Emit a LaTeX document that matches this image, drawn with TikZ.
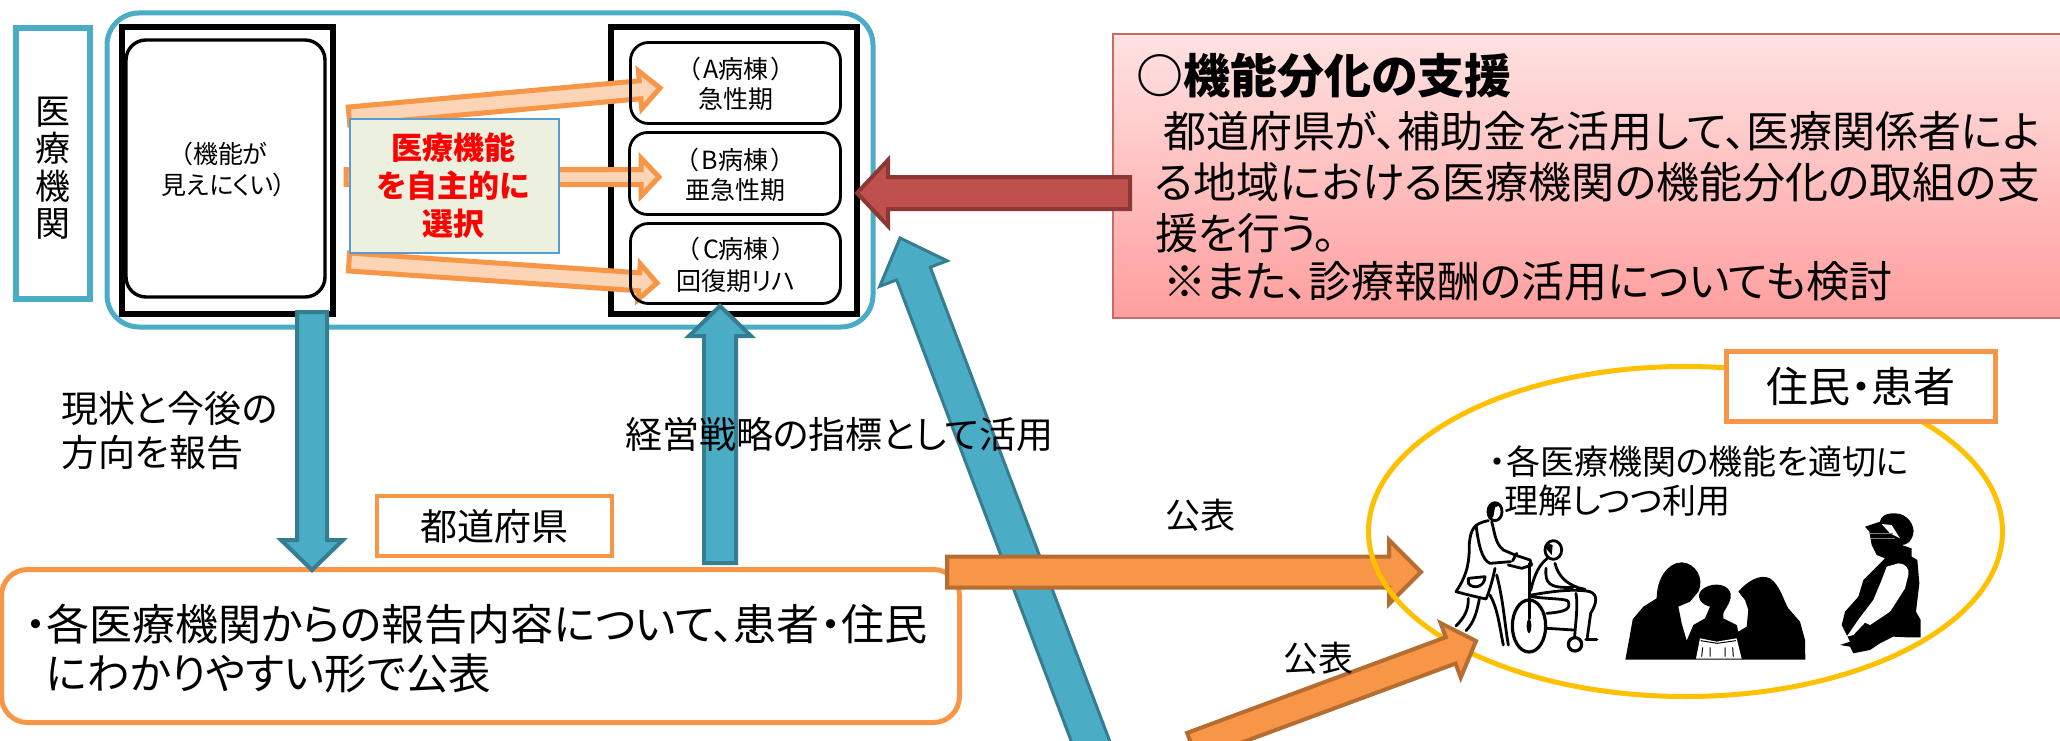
\documentclass[tikz,border=0pt]{standalone}
\usepackage{fontspec}
\usetikzlibrary{calc,shapes.geometric}
\setmainfont{Noto Sans CJK JP}[RawFeature={+palt}]
\definecolor{tblue}{HTML}{4BACC6}
\definecolor{tbluedk}{HTML}{357D91}
\definecolor{torange}{HTML}{F79646}
\definecolor{torangedk}{HTML}{B66D31}
\definecolor{tpeach}{HTML}{FBD5B5}
\definecolor{tred}{HTML}{C0504D}
\definecolor{treddk}{HTML}{8C3836}
\definecolor{tgold}{HTML}{FFC000}
\definecolor{tgreen}{HTML}{EBF1DE}
\definecolor{tedge}{HTML}{5B9BD5}
\definecolor{ptop}{HTML}{FFE2E2}
\definecolor{pbot}{HTML}{FF9E9E}
\newcommand{\fs}[1]{\fontsize{#1}{#1}\selectfont}
% fat block arrow: style, from, to, shaft width, head width, head length
\newcommand{\fatarrow}[6]{%
  \path ($(#3)!#6pt!(#2)$) coordinate (nk);
  \draw[#1] ($(#2)!#4pt/2!90:(#3)$) -- ($(nk)!#4pt/2!90:(#3)$) -- ($(nk)!#5pt/2!90:(#3)$)
    -- (#3) -- ($(nk)!#5pt/2!-90:(#3)$) -- ($(nk)!#4pt/2!-90:(#3)$) -- ($(#2)!#4pt/2!-90:(#3)$) -- cycle;}
\tikzset{
  every node/.style={outer sep=0pt},
  txt/.style={inner sep=0pt,outer sep=0pt,text=black},
  frame/.style={draw=black,line width=6pt,inner sep=0pt,anchor=north west,fill=white},
  ward/.style={draw=black,line width=2.8pt,rounded corners=18pt,inner sep=0pt,anchor=north west},
  orbox/.style={draw=torange,line width=5pt,fill=white,inner sep=0pt,anchor=north west},
  peacharrow/.style={draw=torange,fill=tpeach,line width=5pt,line join=miter},
  bluearrow/.style={draw=tbluedk,fill=tblue,line width=4pt,line join=miter},
  orangearrow/.style={draw=torangedk,fill=torange,line width=4pt,line join=miter},
  redarrow/.style={draw=treddk,fill=tred,line width=4pt,line join=miter},
  art/.style={line width=2.8pt,line cap=round,line join=round,draw=black},
}
\begin{document}
\begin{tikzpicture}[x=1pt,y=-1pt]
\useasboundingbox (0,0) rectangle (2060,741);
\clip (0,0) rectangle (2060,741);
\fill[white] (0,0) rectangle (2060,741);

% --- hospital group
\node[draw=tblue,line width=6pt,fill=white,minimum width=74pt,minimum height=271pt,inner sep=0pt,anchor=north west] (kikan) at (16,28) {};
\node[txt,align=center,font=\fs{35}] (kikantext) at (53,168) {医\\[2.5pt]療\\[2.5pt]機\\[2.5pt]関};
\node[draw=tblue,line width=5pt,rounded corners=32pt,minimum width=766pt,minimum height=314pt,inner sep=0pt,anchor=north west] (group) at (107,13) {};
\node[frame,minimum width=211pt,minimum height=286pt] (leftframe) at (121.5,27.5) {};
\node[draw=black,line width=3.4pt,rounded corners=20pt,minimum width=199pt,minimum height=257pt,inner sep=0pt,anchor=north west] (leftward) at (126,40) {};
\node[txt,align=center,font=\fs{25}] (lefttext) at (224,169) {（機能が\\[6pt]見えにくい）};
\node[frame,minimum width=246pt,minimum height=286pt] (rightframe) at (610.5,27.5) {};

% --- selection arrows
\coordinate (s1) at (349,116); \coordinate (t1) at (660,88);
\coordinate (s2) at (346,177); \coordinate (t2) at (659,177);
\coordinate (s3) at (349,262); \coordinate (t3) at (657,283);
\fatarrow{peacharrow}{s1}{t1}{18}{38}{20}
\fatarrow{peacharrow}{s2}{t2}{15}{38}{18}
\fatarrow{peacharrow}{s3}{t3}{18}{36}{18}

\node[ward,minimum width=210pt,minimum height=81pt] (wardA) at (630.5,42.5) {};
\node[ward,minimum width=211pt,minimum height=82pt] (wardB) at (629.5,132.5) {};
\node[ward,minimum width=210pt,minimum height=80pt] (wardC) at (630.5,223.5) {};
\node[txt,align=center,font=\fs{25}] (wardAt) at (736,83.5) {（\hspace{3pt}A病棟\hspace{3pt}）\\[5pt]急性期};
\node[txt,align=center,font=\fs{25}] (wardBt) at (735,174.5) {（\hspace{3pt}B病棟\hspace{3pt}）\\[5pt]亜急性期};
\node[txt,align=center,font=\fs{25}] (wardCt) at (736,264.5) {（\hspace{3pt}C病棟\hspace{3pt}）\\[7pt]回復期リハ};

\node[draw=tedge,line width=2pt,fill=tgreen,minimum width=209pt,minimum height=134pt,inner sep=0pt,anchor=north west] (choice) at (350,119) {};
\node[txt,align=center,text=red,font=\fs{31}\bfseries] (choicet) at (453,186) {医療機能\\[7pt]を自主的に\\[7pt]選択};

% --- support box
\node[draw=tred!85,line width=2pt,top color=ptop,bottom color=pbot,minimum width=1000pt,minimum height=284pt,inner sep=0pt,anchor=north west] (support) at (1113,34) {};
\node[txt,anchor=west,font=\fs{47}\bfseries] (sup1) at (1136,76) {○機能分化の支援};
\node[txt,anchor=west,font=\fs{43}] (sup2) at (1163,131) {都道府県が、補助金を活用して、医療関係者によ};
\node[txt,anchor=west,font=\fs{43}] (sup3) at (1155,182) {る地域における医療機関の機能分化の取組の支};
\node[txt,anchor=west,font=\fs{43}] (sup4) at (1155,233) {援を行う。};
\node[txt,anchor=west,font=\fs{43}] (sup5) at (1163,281.5) {※また、診療報酬の活用についても検討};
\coordinate (rs) at (1130,193); \coordinate (rt) at (857,193);
\fatarrow{redarrow}{rs}{rt}{32}{66}{31}

% --- prefecture
\node[orbox,rounded corners=26pt,minimum width=958pt,minimum height=153pt] (pref) at (1.5,569.5) {};
\node[orbox,line width=4pt,minimum width=235pt,minimum height=60pt] (preflabel) at (377,496) {};
\node[txt,font=\fs{37}] (preflabelt) at (preflabel.center) {都道府県};
\node[txt,anchor=west,font=\fs{43}] (pr1) at (25,624) {・各医療機関からの報告内容について、患者・住民};
\node[txt,anchor=west,font=\fs{42.5}] (pr2) at (46,673) {にわかりやすい形で公表};

% --- blue arrows
\coordinate (d1) at (312,312); \coordinate (d2) at (312,570);
\coordinate (u1) at (720,563); \coordinate (u2) at (720,306);
\coordinate (g1) at (1098,761); \coordinate (g2) at (900,238);
\fatarrow{bluearrow}{d1}{d2}{30}{62}{30}
\fatarrow{bluearrow}{u1}{u2}{32}{62}{30}
\fatarrow{bluearrow,line width=3pt}{g1}{g2}{36}{72}{38}

\node[txt,anchor=west,font=\fs{37}] (rep1) at (61,408) {現状と今後の};
\node[txt,anchor=west,font=\fs{37}] (rep2) at (61,453) {方向を報告};
\node[txt,anchor=west,font=\fs{37}] (strategy) at (625,434) {経営戦略の指標として活用};

% --- residents
\coordinate (p1) at (947,572); \coordinate (p2) at (1421,572);
\fatarrow{orangearrow}{p1}{p2}{31}{64}{32}
\node[draw=tgold,line width=5pt,ellipse,minimum width=634pt,minimum height=330pt,inner sep=0pt] (oval) at (1685.5,531.5) {};
\coordinate (q1) at (1192,746); \coordinate (q2) at (1476,641);
\fatarrow{orangearrow}{q1}{q2}{28}{58}{27}
\node[orbox,minimum width=269pt,minimum height=70pt] (resident) at (1726.5,351.5) {};
\node[txt,font=\fs{42}] (residentt) at (resident.center) {住民・患者};
\node[txt,font=\fs{35}] (pub1) at (1200,515) {公表};
\node[txt,font=\fs{35}] (pub2) at (1318,658) {公表};
\node[txt,anchor=west,font=\fs{34}] (res1) at (1489,462) {・各医療機関の機能を適切に};
\node[txt,anchor=west,font=\fs{34}] (res2) at (1504,501) {理解しつつ利用};

% --- wheelchair figure
\begin{scope}[shift={(1440,500)},x=0.3333pt,y=-0.3333pt]
\draw[art] (165,35) ellipse [x radius=21,y radius=27];
\fill (143,35) .. controls (140,10) and (170,0) .. (182,15) -- (165,22) -- (160,50) -- (150,58) -- cycle;
\draw[art] (145,62) .. controls (100,70) and (92,90) .. (88,130) .. controls (88,180) and (85,220) .. (48,275);
\draw[art] (48,275) .. controls (85,285) and (115,292) .. (138,297) .. controls (150,270) and (160,230) .. (165,205);
\draw[art] (155,65) .. controls (165,100) and (165,130) .. (190,150) -- (225,165);
\draw[art] (108,75) .. controls (115,130) and (125,180) .. (150,190) -- (212,185);
\draw[art] (225,165) -- (270,180) -- (275,195) -- (245,205) -- (205,195);
\draw[art] (218,182) -- (230,160);
\draw[art] (85,235) -- (135,230) .. controls (135,260) and (100,270) .. (85,250) -- cycle;
\draw[art] (85,295) .. controls (85,330) and (75,350) .. (48,378);
\draw[art] (118,297) .. controls (110,340) and (100,370) .. (78,392);
\draw[art] (150,285) .. controls (175,330) and (180,390) .. (190,435);
\draw[art] (170,225) .. controls (190,300) and (195,380) .. (205,435);
\draw[art] (340,150) ellipse [x radius=25,y radius=28];
\fill (322,150) .. controls (310,140) and (325,125) .. (338,135) -- (335,165) -- cycle;
\draw[art] (322,175) .. controls (290,200) and (280,240) .. (272,272);
\draw[art] (345,190) .. controls (355,230) and (380,250) .. (412,262);
\draw[art] (318,205) .. controls (315,250) and (325,265) .. (400,262);
\draw[art] (275,285) .. controls (330,275) and (400,265) .. (450,275) .. controls (475,285) and (470,310) .. (452,340) -- (442,412);
\draw[art] (410,262) -- (435,268);
\draw[art] (408,280) .. controls (415,320) and (405,380) .. (404,412);
\draw[art] (275,290) .. controls (330,298) and (380,295) .. (385,305) .. controls (390,325) and (385,335) .. (320,340);
\draw[art] (322,385) -- (400,390);
\draw[art] (268,190) -- (268,355);
\draw[art,line width=3.2pt] (267,378) ellipse [x radius=50,y radius=78];
\fill (267,378) ellipse [x radius=7,y radius=21];
\draw[art,line width=3.2pt] (405,433) circle [radius=20];
\draw[art,line width=3.2pt] (438,418) -- (470,418);
\end{scope}

% --- family silhouette
\begin{scope}[shift={(1610,550)},x=0.3333pt,y=-0.3333pt]
\fill (46,329) -- (58,265) -- (68,208) -- (100,170) -- (140,145)
  .. controls (140,90) and (170,38) .. (215,37) .. controls (255,38) and (285,85) .. (265,125)
  -- (240,155) -- (205,170) -- (215,220) -- (230,272) -- (250,225) -- (285,205) -- (300,170)
  .. controls (275,165) and (255,140) .. (275,120) .. controls (295,100) and (345,95) .. (360,125) .. controls (370,150) and (345,175) .. (340,190)
  -- (340,205) -- (380,225) -- (385,245) -- (410,230) -- (415,180) -- (405,150) -- (385,125)
  .. controls (410,95) and (450,70) .. (480,85) .. controls (510,105) and (520,150) .. (535,175)
  -- (570,215) -- (585,270) -- (586,329) -- cycle;
\fill[white] (258,326) -- (270,265) -- (320,275) -- (380,265) -- (395,326) -- cycle;
\draw[line width=1pt] (272,272) -- (322,280) -- (378,272);
\draw[line width=1pt] (275,320) -- (278,292) (300,320) -- (300,292) (345,320) -- (345,292) (370,320) -- (368,292);
\end{scope}

% --- pregnant woman silhouette
\begin{scope}[shift={(1830,500)},x=0.3333pt,y=-0.3333pt]
\fill (105,80) -- (150,65) .. controls (150,50) and (170,38) .. (195,40) .. controls (235,40) and (255,80) .. (250,100) .. controls (245,125) and (230,135) .. (215,135)
  -- (245,145) -- (245,170) -- (262,180) -- (268,250) -- (258,335) -- (272,360) -- (272,412) -- (230,412) -- (190,410) -- (150,430) -- (120,450) -- (70,460) -- (60,440) -- (30,435) -- (60,425) -- (50,405) -- (35,375) -- (45,335) -- (85,290) -- (100,240) -- (130,210) -- (165,175) -- (140,165) -- (125,135) -- (118,95) -- cycle;
\fill[white] (205,190) .. controls (225,190) and (240,205) .. (235,225) -- (225,265) -- (190,320) -- (180,335) -- (120,375) -- (105,368) -- (70,405) -- (50,410) -- (88,355) -- (130,300) -- (155,240) -- (170,200) -- cycle;
\fill[white] (155,72) -- (185,75) -- (210,115) -- (180,100) -- cycle;
\draw[gray,line width=1pt] (120,100) -- (190,100) (122,116) -- (195,116);
\end{scope}
\end{tikzpicture}
\end{document}
